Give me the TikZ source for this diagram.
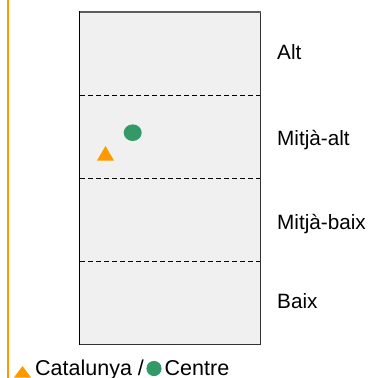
\documentclass[tikz,border=0pt]{standalone}
\usepackage{fontspec}
\setmainfont{Liberation Sans}
\definecolor{orng}{HTML}{FF9900}
\definecolor{grn}{HTML}{339966}
\definecolor{boxfill}{HTML}{F0F0F0}
\definecolor{boxline}{HTML}{333333}
\begin{document}
\begin{tikzpicture}[x=1pt,y=-1pt,
  lbl/.style={anchor=base west,inner sep=0pt,font=\fontsize{20.7}{24}\selectfont},
  leg/.style={anchor=base west,inner sep=0pt,font=\fontsize{21.5}{24}\selectfont},
  sep/.style={dashed,dash pattern=on 5pt off 3pt,line width=1pt,black},
  tri/.style={fill=orng},
  dot/.style={fill=grn}]
\useasboundingbox (0,0) rectangle (371,378);
% orange axis line
\draw[orng,line width=2pt] (8,0) -- (8,378);
% box
\fill[boxfill] (79.5,11.5) rectangle (260.5,344.5);
\draw[boxline,line width=1pt] (79.5,11.5) rectangle (260.5,344.5);
\draw[boxline!80,line width=2pt] (79,11.5) -- (261,11.5);
\draw[black,line width=1.2pt] (79.5,11) -- (79.5,345);
% separators
\coordinate (s1l) at (80,95.25);   \coordinate (s1r) at (260,95.25);
\coordinate (s2l) at (80,178.5);   \coordinate (s2r) at (260,178.5);
\coordinate (s3l) at (80,261.75);  \coordinate (s3r) at (260,261.75);
\draw[sep] (s1l) -- (s1r);
\draw[sep] (s2l) -- (s2r);
\draw[sep] (s3l) -- (s3r);
% labels
\node[lbl] (alt) at (277,59) {Alt};
\node[lbl] (malt) at (277,145) {Mitjà-alt};
\node[lbl] (mbaix) at (277,229) {Mitjà-baix};
\node[lbl] (baix) at (277,308) {Baix};
% markers
\fill[tri] (97,160.5) -- (105.5,146) -- (114,160.5) -- cycle;
\fill[dot] (132.7,132.7) ellipse (9 and 8.3);
% legend
\fill[tri] (14,377.5) -- (22.5,366) -- (31,377.5) -- cycle;
\node[leg] (cat) at (35,375.5) {Catalunya /};
\fill[dot] (154,368.5) circle (7.6);
\node[leg] (cen) at (164.5,375.5) {Centre};
\end{tikzpicture}
\end{document}
